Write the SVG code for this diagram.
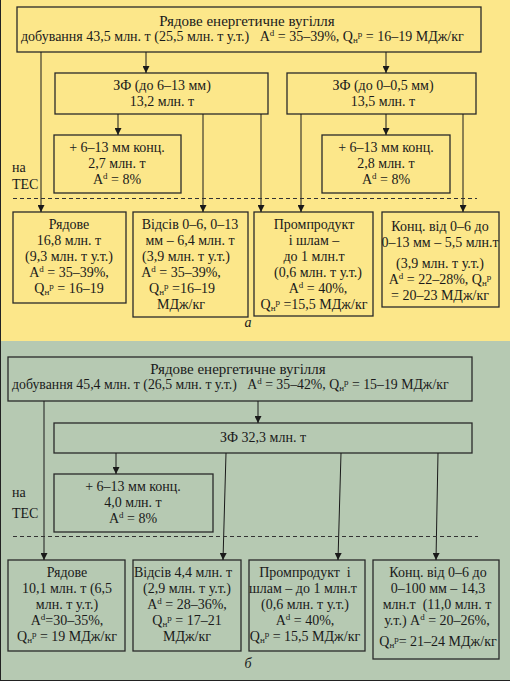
<svg xmlns="http://www.w3.org/2000/svg" width="510" height="681" viewBox="0 0 510 681">
<defs>
<marker id="ah" viewBox="0 0 8 8" refX="8" refY="4" markerWidth="7" markerHeight="7" markerUnits="userSpaceOnUse" orient="auto">
<path d="M0,0 L8,4 L0,8 z" fill="#1a1a1a"/>
</marker>
<style>
text{font-family:"Liberation Serif","Times New Roman",serif;font-size:14px;fill:#1a1a1a;text-anchor:middle;white-space:pre}
.box{stroke:#2a2a2a;stroke-width:1.3}
.y{fill:#fce78a}
.g{fill:#b6c9b2}
.c line{stroke:#1a1a1a;stroke-width:1;marker-end:url(#ah)}
.dash{stroke:#333;stroke-width:1;stroke-dasharray:4,3;fill:none}
.sm{font-size:9px}
.l{text-anchor:start}
.it{font-style:italic}
</style>
</defs>
<rect x="0" y="0" width="510" height="341" fill="#fce78a"/>
<rect x="0" y="341" width="510" height="340" fill="#b6c9b2"/>
<line x1="0.5" y1="0" x2="0.5" y2="681" stroke="#222" stroke-width="1"/>
<line x1="0" y1="680.5" x2="510" y2="680.5" stroke="#222" stroke-width="1"/>

<!-- Panel a -->
<g id="a-top">
<rect class="box y" x="17" y="7" width="464" height="45"/>
<text x="247" y="26" style="font-size:15px">Рядове енергетичне вугілля</text>
<text class="l" x="21" y="41" style="font-size:14px">добування 43,5 млн. т (25,5 млн. т у.т.)   A<tspan class="sm" dy="-5">d</tspan><tspan dy="5"> = 35–39%, Q</tspan><tspan class="sm" dy="2">н</tspan><tspan class="sm" dy="-6">р</tspan><tspan dy="4"> = 16–19 МДж/кг</tspan></text>
</g>
<g id="a-zf1">
<rect class="box y" x="55" y="73" width="213" height="41"/>
<text x="162" y="90">ЗФ (до 6–13 мм)</text>
<text x="162" y="106">13,2 млн. т</text>
</g>
<g id="a-zf2">
<rect class="box y" x="287" y="73" width="189" height="41"/>
<text x="383" y="90">ЗФ (до 0–0,5 мм)</text>
<text x="383" y="106">13,5 млн. т</text>
</g>
<g id="a-conc1">
<rect class="box y" x="54" y="135" width="127" height="58"/>
<text x="117" y="152">+ 6–13 мм конц.</text>
<text x="117" y="168">2,7 млн. т</text>
<text x="117" y="184">A<tspan class="sm" dy="-5">d</tspan><tspan dy="5"> = 8%</tspan></text>
</g>
<g id="a-conc2">
<rect class="box y" x="322" y="135" width="128" height="58"/>
<text x="386" y="152">+ 6–13 мм конц.</text>
<text x="386" y="168">2,8 млн. т</text>
<text x="386" y="184">A<tspan class="sm" dy="-5">d</tspan><tspan dy="5"> = 8%</tspan></text>
</g>
<g id="a-tes">
<text class="l" x="12" y="172">на</text>
<text class="l" x="12" y="189">ТЕС</text>
</g>
<g id="a-ryadove">
<rect class="box y" x="13" y="212" width="113" height="91"/>
<text x="69" y="229">Рядове</text>
<text x="69" y="245">16,8 млн. т</text>
<text x="69" y="261">(9,3 млн. т у.т.)</text>
<text x="69" y="277">A<tspan class="sm" dy="-5">d</tspan><tspan dy="5"> = 35–39%,</tspan></text>
<text x="69" y="293">Q<tspan class="sm" dy="2">н</tspan><tspan class="sm" dy="-6">р</tspan><tspan dy="4"> = 16–19</tspan></text>
</g>
<g id="a-vidsiv">
<rect class="box y" x="133" y="212" width="115" height="105"/>
<text x="190" y="229">Відсів 0–6, 0–13</text>
<text x="190" y="245">мм – 6,4 млн. т</text>
<text x="186" y="261">(3,9 млн. т у.т.)</text>
<text x="181" y="277">A<tspan class="sm" dy="-5">d</tspan><tspan dy="5"> = 35–39%,</tspan></text>
<text x="182" y="293">Q<tspan class="sm" dy="2">н</tspan><tspan class="sm" dy="-6">р</tspan><tspan dy="4"> =16–19</tspan></text>
<text x="181" y="309">МДж/кг</text>
</g>
<g id="a-prom">
<rect class="box y" x="254" y="212" width="119" height="104"/>
<text x="314" y="229">Промпродукт</text>
<text x="314" y="245">і шлам –</text>
<text x="314" y="261">до 1 млн.т</text>
<text x="318" y="277">(0,6 млн. т у.т.)</text>
<text x="318" y="293">A<tspan class="sm" dy="-5">d</tspan><tspan dy="5"> = 40%,</tspan></text>
<text x="314" y="309">Q<tspan class="sm" dy="2">н</tspan><tspan class="sm" dy="-6">р</tspan><tspan dy="4"> =15,5 МДж/кг</tspan></text>
</g>
<g id="a-konc">
<rect class="box y" x="382" y="212" width="117" height="95"/>
<text x="440" y="231">Конц. від 0–6 до</text>
<text x="440" y="247">0–13 мм – 5,5 млн.т</text>
<text x="440" y="268">(3,9 млн. т у.т.)</text>
<text x="440" y="284">A<tspan class="sm" dy="-5">d</tspan><tspan dy="5"> = 22–28%, Q</tspan><tspan class="sm" dy="2">н</tspan><tspan class="sm" dy="-6">р</tspan></text>
<text x="440" y="300">= 20–23 МДж/кг</text>
</g>
<text class="it" x="248" y="327">а</text>

<g id="a-connectors" class="c">
<line x1="41" y1="52" x2="41" y2="212"/>
<line x1="146" y1="52" x2="146" y2="73"/>
<line x1="386" y1="52" x2="386" y2="73"/>
<line x1="118" y1="114" x2="118" y2="135"/>
<line x1="203" y1="114" x2="203" y2="212"/>
<line x1="261" y1="114" x2="261" y2="212"/>
<line x1="301" y1="114" x2="301" y2="212"/>
<line x1="386" y1="114" x2="386" y2="135"/>
<line x1="463" y1="114" x2="463" y2="212"/>
</g>
<line class="dash" x1="13" y1="198.5" x2="477" y2="198.5"/>

<!-- Panel b -->
<g id="b-top">
<rect class="box g" x="8" y="357" width="464" height="44"/>
<text x="238" y="374" style="font-size:15px">Рядове енергетичне вугілля</text>
<text class="l" x="12" y="389" style="font-size:13.8px">добування 45,4 млн. т (26,5 млн. т у.т.)   A<tspan class="sm" dy="-5">d</tspan><tspan dy="5"> = 35–42%, Q</tspan><tspan class="sm" dy="2">н</tspan><tspan class="sm" dy="-6">р</tspan><tspan dy="4"> = 15–19 МДж/кг</tspan></text>
</g>
<g id="b-zf">
<rect class="box g" x="54" y="423" width="418" height="30"/>
<text x="263" y="442">ЗФ 32,3 млн. т</text>
</g>
<g id="b-conc">
<rect class="box g" x="54" y="474" width="159" height="58"/>
<text x="133" y="491">+ 6–13 мм конц.</text>
<text x="133" y="507">4,0 млн. т</text>
<text x="133" y="523">A<tspan class="sm" dy="-5">d</tspan><tspan dy="5"> = 8%</tspan></text>
</g>
<g id="b-tes">
<text class="l" x="12" y="497">на</text>
<text class="l" x="12" y="518">ТЕС</text>
</g>
<g id="b-ryadove">
<rect class="box g" x="8" y="560" width="117" height="91"/>
<text x="67" y="577">Рядове</text>
<text x="67" y="593">10,1 млн. т (6,5</text>
<text x="67" y="609">млн. т у.т.)</text>
<text x="67" y="625">A<tspan class="sm" dy="-5">d</tspan><tspan dy="5">=30–35%,</tspan></text>
<text x="67" y="641">Q<tspan class="sm" dy="2">н</tspan><tspan class="sm" dy="-6">р</tspan><tspan dy="4"> = 19 МДж/кг</tspan></text>
</g>
<g id="b-vidsiv">
<rect class="box g" x="133" y="560" width="108" height="91"/>
<text x="183" y="577">Відсів 4,4 млн. т</text>
<text x="187" y="593">(2,9 млн. т у.т.)</text>
<text x="187" y="609">A<tspan class="sm" dy="-5">d</tspan><tspan dy="5"> = 28–36%,</tspan></text>
<text x="187" y="625">Q<tspan class="sm" dy="2">н</tspan><tspan class="sm" dy="-6">р</tspan><tspan dy="4"> = 17–21</tspan></text>
<text x="187" y="641">МДж/кг</text>
</g>
<g id="b-prom">
<rect class="box g" x="249" y="560" width="116" height="91"/>
<text x="305" y="577">Промпродукт  і</text>
<text x="303" y="593">шлам – до 1 млн.т</text>
<text x="305" y="609">(0,6 млн. т у.т.)</text>
<text x="305" y="625">A<tspan class="sm" dy="-5">d</tspan><tspan dy="5"> = 40%,</tspan></text>
<text x="305" y="641">Q<tspan class="sm" dy="2">н</tspan><tspan class="sm" dy="-6">р</tspan><tspan dy="4"> = 15,5 МДж/кг</tspan></text>
</g>
<g id="b-konc">
<rect class="box g" x="373" y="560" width="126" height="99"/>
<text x="438" y="577">Конц. від 0–6 до</text>
<text x="438" y="593">0–100 мм – 14,3</text>
<text x="437" y="609">млн.т  (11,0 млн. т</text>
<text x="437" y="625">у.т.) A<tspan class="sm" dy="-5">d</tspan><tspan dy="5"> = 20–26%,</tspan></text>
<text x="438" y="646">Q<tspan class="sm" dy="2">н</tspan><tspan class="sm" dy="-6">р</tspan><tspan dy="4">= 21–24 МДж/кг</tspan></text>
</g>
<text class="it" x="248" y="668">б</text>

<g id="b-connectors" class="c">
<line x1="44" y1="401" x2="44" y2="560"/>
<line x1="258" y1="401" x2="258" y2="423"/>
<line x1="116" y1="453" x2="116" y2="474"/>
<line x1="226" y1="453" x2="223" y2="560"/>
<line x1="341" y1="453" x2="338" y2="560"/>
<line x1="438" y1="453" x2="436" y2="560"/>
</g>
<line class="dash" x1="13" y1="536.5" x2="478" y2="536.5"/>
</svg>
